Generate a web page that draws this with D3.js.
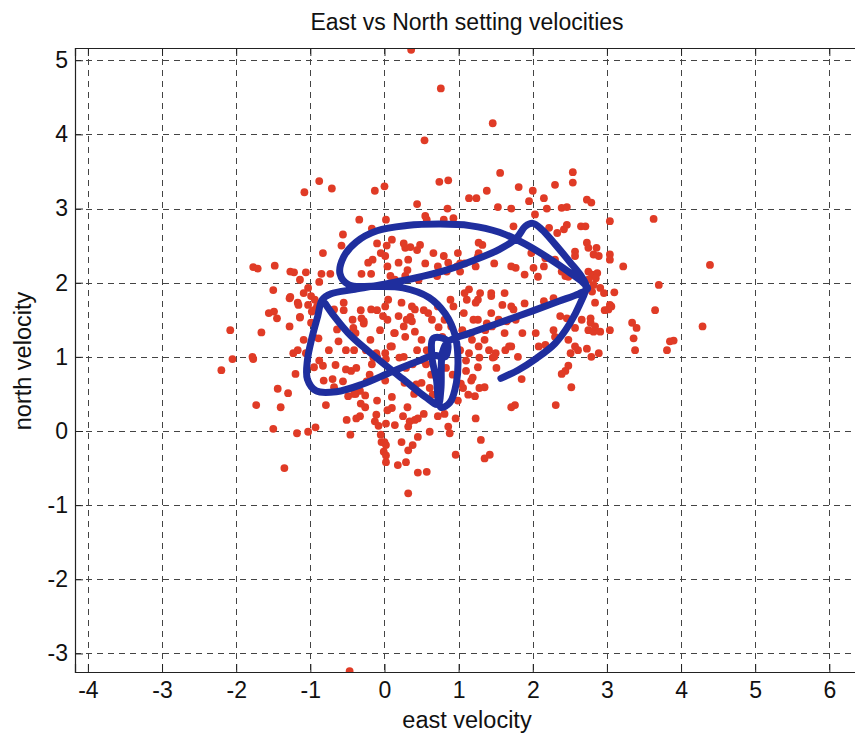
<!DOCTYPE html>
<html>
<head>
<meta charset="utf-8">
<script src="https://cdn.jsdelivr.net/npm/d3@7"></script>
<style>
  html, body { margin: 0; padding: 0; background: #fff; }
  svg { display: block; }
  text { font-family: "Liberation Sans", Arial, Helvetica, sans-serif; fill: #111; }
</style>
</head>
<body>
<svg id="chart" width="855" height="735"></svg>
<script>
// Individual east/north velocity samples [east, north]
const samples = [
  [0.36,5.14],[0.76,4.62],[-0.47,-3.24],[1.46,4.15],[0.54,3.92],
  [-0.88,3.37],[-1.08,3.22],[-0.71,3.27],[-0.13,3.24],[0.00,3.30],[-0.34,2.85],[-0.17,2.73],[-0.56,2.65],[-0.58,2.50],[-0.83,2.40],
  [-1.77,2.21],[-1.71,2.19],[-1.48,2.23],[-1.22,2.14],[-1.06,2.14],[-0.85,2.12],[-0.73,2.12],[-0.22,2.27],[-0.31,2.12],[-0.18,2.12],
  [-0.88,2.01],[-1.50,1.90],[-1.28,1.79],[-1.17,1.73],[-1.16,1.70],[-1.03,1.93],[-0.99,1.82],[-0.94,1.77],[-0.91,1.68],[-0.98,1.61],
  [-1.03,1.70],[-1.56,1.59],[-1.49,1.61],[-1.45,1.52],[-1.14,1.53],[-1.28,1.41],[-2.08,1.36],[-1.66,1.33],[-0.99,1.46],[-0.96,1.27],
  [-0.89,1.25],[-1.17,1.09],[-1.06,1.05],[-0.75,1.09],[-1.78,1.00],[-0.68,1.64],[-0.55,1.73],[-0.43,1.50],[-0.42,1.39],[-0.39,1.32],
  [-0.31,1.52],[-0.28,1.48],[-0.06,1.36],[-0.18,1.64],[-0.64,1.37],[-0.62,1.21],[-0.52,1.09],[-0.25,1.09],[-0.11,1.05],[-0.02,1.55],
  [1.56,3.48],[0.74,3.36],[0.86,3.38],[1.38,3.24],[1.81,3.29],[1.14,3.14],[1.24,3.14],[0.44,3.06],[0.85,3.00],[1.53,3.02],
  [1.71,3.00],[1.95,3.10],[0.55,2.90],[0.57,2.85],[0.02,2.85],[0.80,2.85],[0.93,2.87],[1.74,2.76],[0.48,2.51],[0.28,2.47],
  [0.35,2.48],[0.10,2.58],[0.03,2.50],[0.66,2.40],[0.80,2.36],[0.55,2.26],[0.86,2.27],[0.98,2.22],[1.02,2.26],[0.84,2.15],
  [1.02,2.15],[1.27,2.54],[1.32,2.51],[1.27,2.40],[1.23,2.22],[1.77,2.20],[1.89,2.11],[0.19,2.27],[0.32,2.31],[0.28,2.09],
  [0.01,2.36],[0.71,2.09],[0.08,2.09],[0.14,2.04],[0.46,2.04],[1.14,1.91],[1.29,1.86],[1.44,1.82],[1.23,1.73],[1.59,1.70],
  [1.74,1.64],[1.07,1.59],[1.20,1.50],[1.38,1.45],[1.45,1.41],[1.54,1.50],[1.65,1.48],[0.05,1.77],[0.01,1.68],[0.23,1.73],
  [0.37,1.68],[0.41,1.64],[0.19,1.55],[0.30,1.50],[0.37,1.48],[0.59,1.59],[0.64,1.50],[0.89,1.77],[0.93,1.68],[1.11,1.77],
  [1.86,1.32],[1.77,1.50],[0.14,1.32],[0.28,1.27],[0.41,1.34],[0.50,1.23],[0.57,1.09],[1.18,1.23],[1.27,1.14],[1.41,1.09],
  [1.50,1.05],[1.63,1.09],[1.68,1.14],[0.10,1.14],[0.01,1.05],[1.02,1.09],[1.14,1.05],[0.82,1.05],[0.78,1.27],[1.05,1.36],
  [1.36,1.36],[0.73,1.40],
  [2.54,3.49],[2.54,3.35],[2.30,3.32],[2.00,3.24],[2.15,3.14],[2.19,3.00],[2.39,3.01],[2.46,3.02],[2.73,3.12],[2.79,3.08],
  [2.03,2.92],[3.04,2.83],[3.63,2.86],[2.46,2.78],[2.42,2.72],[2.65,2.76],[2.71,2.76],[2.33,2.67],[2.22,2.74],[2.73,2.54],
  [2.75,2.47],[2.86,2.47],[2.82,2.38],[2.89,2.36],[2.57,2.42],[2.57,2.36],[3.04,2.38],[3.04,2.31],[3.22,2.22],[4.39,2.24],
  [2.17,2.33],[2.15,2.22],[2.01,2.20],[2.39,2.15],[2.44,2.09],[2.75,2.15],[2.80,2.11],[2.87,2.13],[2.85,2.06],[2.82,1.97],
  [2.91,1.93],[2.96,1.86],[2.80,1.88],[2.84,1.73],[3.10,1.87],[3.70,1.97],[3.04,1.70],[3.02,1.64],[3.06,1.68],[3.65,1.63],
  [2.15,1.75],[2.28,1.79],[2.37,1.55],[2.46,1.52],[2.66,1.50],[2.78,1.52],[2.78,1.46],[2.75,1.36],[2.82,1.34],[2.91,1.34],
  [3.04,1.36],[2.57,1.39],[3.34,1.46],[3.40,1.39],[4.29,1.41],[3.36,1.25],[3.85,1.21],[3.90,1.22],[3.81,1.09],[3.38,1.09],
  [2.04,1.32],[2.28,1.36],[2.30,1.27],[2.08,1.14],[2.17,1.16],[2.48,1.23],[2.57,1.14],[2.51,1.05],[2.73,1.11],[2.89,1.05],
  [2.48,0.88],[2.44,0.81],[2.31,0.35],
  [-2.20,0.82],[-2.05,0.97],[-1.77,0.97],[-1.20,0.77],[-1.44,0.57],[-1.30,0.51],[-1.73,0.35],[-1.40,0.32],[-1.50,0.03],[-1.18,-0.03],
  [-1.03,-0.01],[-0.93,0.05],[-1.35,-0.50],[-0.88,0.95],[-0.83,0.88],[-0.66,0.89],[-0.79,0.35],[-0.70,0.70],[-0.56,0.67],[-0.52,0.83],
  [-0.45,0.81],[-0.38,0.85],[-0.49,0.47],[-0.38,0.56],[-0.33,0.54],[-0.26,0.32],[-0.51,0.15],[-0.38,0.17],[-0.33,0.20],[-0.46,-0.05],
  [-0.11,0.22],[-0.13,0.13],[-0.08,0.07],[-0.04,-0.15],[-0.01,-0.28],[-0.15,0.99],[-0.17,0.90],[-0.24,0.67],[-0.20,0.76],
  [0.02,0.97],[0.20,0.99],[0.29,0.85],[0.38,0.90],[0.27,0.65],[0.43,0.63],[0.50,0.65],[0.61,0.58],[0.65,0.49],[0.56,0.90],
  [0.63,0.76],[0.10,0.31],[0.25,0.20],[0.14,0.08],[0.34,0.13],[0.41,0.15],[0.45,0.17],[0.32,0.06],[0.02,0.10],[-0.05,-0.05],
  [0.72,0.20],[0.86,0.06],[0.88,-0.03],[0.61,-0.01],[0.45,-0.08],[0.23,-0.15],[0.38,-0.19],[0.32,-0.26],[0.00,-0.15],[0.02,-0.19],
  [0.02,-0.33],[0.02,-0.42],[0.18,-0.46],[0.29,-0.42],[0.45,-0.56],[0.57,-0.55],[0.32,-0.84],[0.96,-0.32],[0.96,0.17],[1.23,0.17],
  [1.30,-0.12],[1.35,-0.37],[1.42,-0.32],[1.76,0.35],[1.85,0.70],[1.10,0.95],[1.28,0.99],[1.46,0.99],[1.51,0.85],[1.10,0.81],
  [1.19,0.72],[1.28,0.58],[1.06,0.58],[1.13,0.49],[1.22,0.47],[0.83,0.85],[0.92,0.76],[0.01,0.68],[0.10,0.46],[-0.26,0.48],
  [-0.39,0.50],
  [-0.16,2.31],[-0.10,2.53],[-0.05,2.40],[0.04,2.22],[0.26,2.53],[0.31,2.17],[0.44,2.44],[0.72,2.22],[0.99,2.40],[1.08,2.26],
  [1.26,2.35],[1.48,2.26],[1.71,2.22],[1.98,2.40],[2.07,2.08],[2.30,2.31],[2.48,2.08],[2.75,2.04],[2.97,1.63],[2.84,1.41],
  [2.61,1.09],[2.79,1.00],[2.39,0.77],[2.52,0.59],[1.08,1.86],[1.26,1.77],[1.44,1.86],[1.62,1.86],[1.71,1.68],[1.89,1.72],
  [1.44,1.59],[1.26,1.50],[1.17,1.32],[1.35,1.23],[1.62,1.32],[1.71,1.14],[1.80,1.00],[1.48,1.00],[1.26,0.86],[1.17,0.68],
  [1.35,0.59],[1.71,0.32],[-1.27,2.15],[-1.14,2.04],[-1.27,1.81],[-1.09,1.86],[-0.95,1.63],[-1.14,1.54],[-1.09,1.23],[-1.23,1.05],
  [-0.95,0.86],[-0.82,0.68],[-0.68,0.59],[-0.41,0.50],[-0.32,0.37],[-0.10,0.41],[0.04,0.28],[0.31,0.32],[0.40,0.50],[0.53,0.23],
  [0.81,0.23],[0.99,0.41],[1.03,0.64],[-0.55,1.63],[-0.32,1.63],[-0.10,1.63],[0.04,1.50],[0.13,1.32],[0.26,1.41],[0.35,1.54],
  [0.53,1.63],[0.72,1.68],[0.81,1.50],[0.90,1.41],[-0.28,1.45],[-0.19,1.23],[-0.41,1.09],[-0.10,1.00],[0.08,1.14],[0.26,1.00],
  [0.44,1.09],[0.53,0.95]
];

// Smoothed velocity track [east, north], in time order from the free end
const track = [
  [1.57,0.71],[1.80,0.82],[2.05,0.98],[2.30,1.18],[2.50,1.45],[2.64,1.72],[2.72,1.95],
  [2.66,2.08],[2.50,2.28],[2.30,2.52],[2.12,2.72],[2.00,2.80],[1.90,2.76],
  [1.78,2.60],[1.55,2.45],[1.20,2.30],[0.80,2.16],[0.40,2.06],[0.00,1.98],[-0.40,1.91],[-0.72,1.85],[-0.84,1.77],
  [-0.90,1.55],[-0.98,1.25],[-1.04,0.95],[-1.04,0.70],[-0.92,0.54],[-0.65,0.53],[-0.30,0.63],[0.10,0.80],[0.45,0.94],[0.66,1.02],
  [0.82,1.00],[0.84,1.22],[0.66,1.25],[0.64,1.00],
  [0.70,0.70],[0.76,0.32],
  [0.88,0.38],[0.97,0.65],[0.99,1.00],[0.95,1.30],[0.82,1.58],[0.60,1.80],[0.25,1.93],[-0.15,1.95],[-0.48,1.97],
  [-0.60,2.12],[-0.55,2.35],[-0.38,2.55],[-0.10,2.70],[0.30,2.77],[0.75,2.79],[1.15,2.77],[1.55,2.68],[1.90,2.52],
  [2.20,2.34],[2.48,2.15],[2.68,2.00],
  [2.74,1.92],[2.62,1.85],[2.35,1.75],[2.00,1.62],[1.55,1.46],[1.15,1.32],[0.85,1.20],
  [0.78,1.05],[0.76,0.55],[0.72,0.36],[0.55,0.46],[0.25,0.70],[-0.10,0.98],[-0.45,1.28],[-0.68,1.55],[-0.80,1.72]
];

const xTicks = [-4, -3, -2, -1, 0, 1, 2, 3, 4, 5, 6];
const yTicks = [-3, -2, -1, 0, 1, 2, 3, 4, 5];

const titleText = "East vs North setting velocities";
const xLabelText = "east velocity";
const yLabelText = "north velocity";

const svg = d3.select("#chart");
const plot = { left: 75, top: 48, right: 859, bottom: 672 };

const x = d3.scaleLinear().domain([-4.174, 6.40]).range([plot.left, plot.right]);
const y = d3.scaleLinear().domain([-3.25, 5.165]).range([plot.bottom, plot.top]);

svg.append("defs").append("clipPath").attr("id", "plot-clip")
  .append("rect")
  .attr("x", plot.left).attr("y", plot.top)
  .attr("width", plot.right - plot.left).attr("height", plot.bottom - plot.top);

// dashed grid
const grid = svg.append("g").attr("stroke", "#444").attr("stroke-width", 1)
  .attr("stroke-dasharray", "6,5").attr("fill", "none");
grid.selectAll("line.gx").data(xTicks).join("line").attr("class", "gx")
  .attr("x1", d => Math.round(x(d)) + 0.5).attr("x2", d => Math.round(x(d)) + 0.5)
  .attr("y1", plot.top).attr("y2", plot.bottom);
grid.selectAll("line.gy").data(yTicks).join("line").attr("class", "gy")
  .attr("y1", d => Math.round(y(d)) + 0.5).attr("y2", d => Math.round(y(d)) + 0.5)
  .attr("x1", plot.left).attr("x2", plot.right);

// scatter of samples
svg.append("g").attr("clip-path", "url(#plot-clip)")
  .selectAll("circle").data(samples).join("circle")
  .attr("cx", d => x(d[0])).attr("cy", d => y(d[1])).attr("r", 3.9)
  .attr("fill", "#e03b26");

// track line
const line = d3.line().x(d => x(d[0])).y(d => y(d[1])).curve(d3.curveCatmullRom.alpha(0.5));
svg.append("path").datum(track)
  .attr("d", line)
  .attr("fill", "none").attr("stroke", "#1f2e9e").attr("stroke-width", 7)
  .attr("stroke-linecap", "round").attr("stroke-linejoin", "round");

// axes with inward ticks
const xAxisB = d3.axisBottom(x).tickValues(xTicks).tickSize(-8).tickPadding(10).tickFormat(d3.format("d"));
const xAxisT = d3.axisTop(x).tickValues(xTicks).tickSize(-8).tickFormat("");
const yAxisL = d3.axisLeft(y).tickValues(yTicks).tickSize(-8).tickPadding(7).tickFormat(d3.format("d"));

function styleAxis(g) {
  g.select(".domain").attr("stroke", "#222").attr("stroke-width", 1.2);
  g.selectAll(".tick line").attr("stroke", "#222");
  g.selectAll(".tick text").attr("fill", "#000").style("font-size", "23px")
    .style("font-family", "'Liberation Sans', Arial, sans-serif");
}
svg.append("g").attr("transform", `translate(0,${plot.bottom})`).call(xAxisB).call(styleAxis);
svg.append("g").attr("transform", `translate(0,${plot.top})`).call(xAxisT).call(styleAxis);
svg.append("g").attr("transform", `translate(${plot.left},0)`).call(yAxisL).call(styleAxis);
svg.selectAll(".tick text").text(function() { return d3.select(this).text().replace("\u2212", "-"); });

// labels
const cx = (plot.left + plot.right) / 2;
svg.append("text").attr("x", cx).attr("y", 30).attr("text-anchor", "middle")
  .style("font-size", "23px").text(titleText);
svg.append("text").attr("x", cx).attr("y", 728).attr("text-anchor", "middle")
  .style("font-size", "23.5px").text(xLabelText);
svg.append("text").attr("transform", "translate(31,361) rotate(-90)").attr("text-anchor", "middle")
  .style("font-size", "23.5px").text(yLabelText);
</script>
</body>
</html>
